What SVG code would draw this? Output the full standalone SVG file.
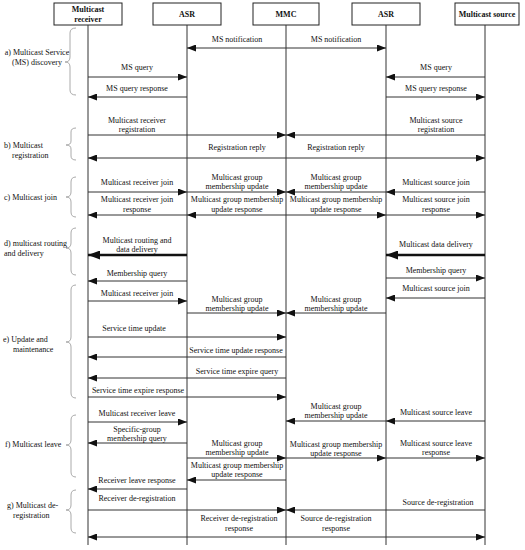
<svg xmlns="http://www.w3.org/2000/svg" width="525" height="550" viewBox="0 0 525 550">
<style>
text{font-family:"Liberation Serif","Times New Roman",serif;font-size:8px;fill:#111}
.h{font-weight:bold;text-anchor:middle}
.m{text-anchor:middle}
.box{fill:#fff;stroke:#222;stroke-width:1}
.life{stroke:#333;stroke-width:1}
.msg{stroke:#333;stroke-width:1;fill:none;marker-end:url(#ah)}
.thick{stroke:#111;stroke-width:2.6;fill:none;marker-end:url(#ahT)}
.brace{stroke:#aaa;stroke-width:1;fill:none}
</style>
<defs>
<marker id="ah" markerUnits="userSpaceOnUse" markerWidth="9" markerHeight="7" refX="9" refY="3.5" orient="auto"><path d="M0,0 L9,3.5 L0,7 z" fill="#111"/></marker>
<marker id="ahT" markerUnits="userSpaceOnUse" markerWidth="12" markerHeight="9" refX="12" refY="4.5" orient="auto"><path d="M0,0 L12,4.5 L0,9 z" fill="#111"/></marker>
</defs>
<rect width="525" height="550" fill="#fff"/>
<g id="receiver"><rect class="box" x="54" y="3" width="68" height="22"/><text class="h" x="88" y="12">Multicast</text><text class="h" x="88" y="22">receiver</text><line class="life" x1="88" y1="25" x2="88" y2="545"/></g>
<g id="asr1"><rect class="box" x="153" y="3" width="68" height="22"/><text class="h" x="187" y="17">ASR</text><line class="life" x1="187" y1="25" x2="187" y2="545"/></g>
<g id="mmc"><rect class="box" x="253" y="3" width="66" height="22"/><text class="h" x="286" y="17">MMC</text><line class="life" x1="286" y1="25" x2="286" y2="545"/></g>
<g id="asr2"><rect class="box" x="352" y="3" width="68" height="22"/><text class="h" x="386" y="17">ASR</text><line class="life" x1="386" y1="25" x2="386" y2="545"/></g>
<g id="source"><rect class="box" x="455" y="3" width="64" height="22"/><text class="h" x="487" y="17">Multicast source</text><line class="life" x1="485" y1="25" x2="485" y2="545"/></g>
<g id="phases">
<path class="brace" d="M76,28 Q70,28 70,33 L70,57 Q70,62 65,62 Q70,62 70,67 L70,90 Q70,95 76,95"/>
<text class="m" x="37" y="55">a) Multicast Service</text><text class="m" x="37" y="65">(MS) discovery</text>
<path class="brace" d="M76,128 Q71,128 71,132 L71,141 Q71,145 66,145 Q71,145 71,149 L71,156 Q71,160 76,160"/>
<text x="4" y="148">b) Multicast</text><text x="12" y="158">registration</text>
<path class="brace" d="M76,177 Q71,177 71,182 L71,192 Q71,197 66,197 Q71,197 71,202 L71,212 Q71,217 76,217"/>
<text x="4" y="200">c) Multicast join</text>
<path class="brace" d="M76,228 Q71,228 71,233 L71,243 Q71,248 66,248 Q71,248 71,253 L71,270 Q71,275 76,275"/>
<text x="4" y="246">d) multicast routing</text><text x="4" y="256">and delivery</text>
<path class="brace" d="M76,285 Q71,285 71,290 L71,337 Q71,342 66,342 Q71,342 71,347 L71,393 Q71,398 76,398"/>
<text x="3" y="342">e) Update and</text><text x="13" y="352">maintenance</text>
<path class="brace" d="M76,415 Q71,415 71,420 L71,440 Q71,445 66,445 Q71,445 71,450 L71,472 Q71,477 76,477"/>
<text x="5" y="447">f) Multicast leave</text>
<path class="brace" d="M76,490 Q71,490 71,495 L71,505 Q71,510 66,510 Q71,510 71,515 L71,528 Q71,533 76,533"/>
<text x="7" y="508">g) Multicast de-</text><text x="13" y="518">registration</text>
</g>
<g id="connectors">
<line class="msg" x1="286" y1="48" x2="187" y2="48"/><line class="msg" x1="286" y1="48" x2="386" y2="48"/>
<line class="msg" x1="88" y1="77" x2="187" y2="77"/><line class="msg" x1="485" y1="77" x2="386" y2="77"/>
<line class="msg" x1="187" y1="97" x2="88" y2="97"/><line class="msg" x1="386" y1="97" x2="485" y2="97"/>
<line class="msg" x1="88" y1="135" x2="286" y2="135"/><line class="msg" x1="485" y1="135" x2="286" y2="135"/>
<line class="msg" x1="286" y1="158" x2="88" y2="158"/><line class="msg" x1="286" y1="158" x2="485" y2="158"/>
<line class="msg" x1="88" y1="192" x2="187" y2="192"/><line class="msg" x1="187" y1="192" x2="286" y2="192"/><line class="msg" x1="386" y1="192" x2="286" y2="192"/><line class="msg" x1="485" y1="192" x2="386" y2="192"/>
<line class="msg" x1="187" y1="215" x2="88" y2="215"/><line class="msg" x1="286" y1="215" x2="187" y2="215"/><line class="msg" x1="286" y1="215" x2="386" y2="215"/><line class="msg" x1="386" y1="215" x2="485" y2="215"/>
<line class="thick" x1="187" y1="255" x2="88" y2="255"/><line class="thick" x1="485" y1="255" x2="386" y2="255"/>
<line class="msg" x1="187" y1="281" x2="88" y2="281"/><line class="msg" x1="386" y1="278" x2="485" y2="278"/>
<line class="msg" x1="88" y1="301" x2="187" y2="301"/><line class="msg" x1="485" y1="298" x2="386" y2="298"/>
<line class="msg" x1="187" y1="313" x2="286" y2="313"/><line class="msg" x1="386" y1="313" x2="286" y2="313"/>
<line class="msg" x1="88" y1="337" x2="286" y2="337"/>
<line class="msg" x1="286" y1="357" x2="88" y2="357"/>
<line class="msg" x1="286" y1="378" x2="88" y2="378"/>
<line class="msg" x1="88" y1="397" x2="286" y2="397"/>
<line class="msg" x1="88" y1="422" x2="187" y2="422"/><line class="msg" x1="386" y1="421" x2="286" y2="421"/><line class="msg" x1="485" y1="421" x2="386" y2="421"/>
<line class="msg" x1="187" y1="443" x2="88" y2="443"/>
<line class="msg" x1="187" y1="458" x2="286" y2="458"/><line class="msg" x1="286" y1="458" x2="386" y2="458"/><line class="msg" x1="386" y1="458" x2="485" y2="458"/>
<line class="msg" x1="286" y1="480" x2="187" y2="480"/>
<line class="msg" x1="187" y1="489" x2="88" y2="489"/>
<line class="msg" x1="88" y1="510" x2="286" y2="510"/><line class="msg" x1="485" y1="510" x2="286" y2="510"/>
<line class="msg" x1="286" y1="537" x2="88" y2="537"/><line class="msg" x1="286" y1="537" x2="485" y2="537"/>
</g>
<g id="labels" class="m">
<text class="m" x="237" y="42">MS notification</text><text class="m" x="336" y="42">MS notification</text>
<text class="m" x="137" y="70">MS query</text><text class="m" x="436" y="70">MS query</text>
<text class="m" x="137" y="91">MS query response</text><text class="m" x="436" y="91">MS query response</text>
<text class="m" x="137" y="123">Multicast receiver</text><text class="m" x="137" y="132">registration</text>
<text class="m" x="436" y="123">Multicast source</text><text class="m" x="436" y="132">registration</text>
<text class="m" x="237" y="150">Registration reply</text><text class="m" x="336" y="150">Registration reply</text>
<text class="m" x="137" y="185">Multicast receiver join</text>
<text class="m" x="237" y="180">Multicast group</text><text class="m" x="237" y="189">membership update</text>
<text class="m" x="336" y="180">Multicast group</text><text class="m" x="336" y="189">membership update</text>
<text class="m" x="436" y="185">Multicast source join</text>
<text class="m" x="137" y="202">Multicast receiver join</text><text class="m" x="137" y="212">response</text>
<text class="m" x="237" y="202">Multicast group membership</text><text class="m" x="237" y="212">update response</text>
<text class="m" x="336" y="202">Multicast group membership</text><text class="m" x="336" y="212">update response</text>
<text class="m" x="436" y="202">Multicast source join</text><text class="m" x="436" y="212">response</text>
<text class="m" x="137" y="243">Multicast routing and</text><text class="m" x="137" y="252">data delivery</text>
<text class="m" x="436" y="247">Multicast data delivery</text>
<text class="m" x="137" y="276">Membership query</text><text class="m" x="436" y="273">Membership query</text>
<text class="m" x="137" y="296">Multicast receiver join</text><text class="m" x="436" y="291">Multicast source join</text>
<text class="m" x="237" y="302">Multicast group</text><text class="m" x="237" y="311">membership update</text>
<text class="m" x="336" y="302">Multicast group</text><text class="m" x="336" y="311">membership update</text>
<text class="m" x="134" y="331">Service time update</text>
<text class="m" x="236" y="353">Service time update response</text>
<text class="m" x="237" y="374">Service time expire query</text>
<text class="m" x="138" y="393">Service time expire response</text>
<text class="m" x="137" y="416">Multicast receiver leave</text>
<text class="m" x="336" y="409">Multicast group</text><text class="m" x="336" y="418">membership update</text>
<text class="m" x="436" y="415">Multicast source leave</text>
<text class="m" x="137" y="432">Specific-group</text><text class="m" x="137" y="441">membership query</text>
<text class="m" x="237" y="446">Multicast group</text><text class="m" x="237" y="455">membership update</text>
<text class="m" x="336" y="447">Multicast group membership</text><text class="m" x="336" y="456">update response</text>
<text class="m" x="436" y="446">Multicast source leave</text><text class="m" x="436" y="455">response</text>
<text class="m" x="237" y="468">Multicast group membership</text><text class="m" x="237" y="477">update response</text>
<text class="m" x="137" y="483">Receiver leave response</text>
<text class="m" x="137" y="501">Receiver de-registration</text><text class="m" x="438" y="505">Source de-registration</text>
<text class="m" x="239" y="521">Receiver de-registration</text><text class="m" x="239" y="531">response</text>
<text class="m" x="336" y="521">Source de-registration</text><text class="m" x="336" y="531">response</text>
</g>
</svg>
